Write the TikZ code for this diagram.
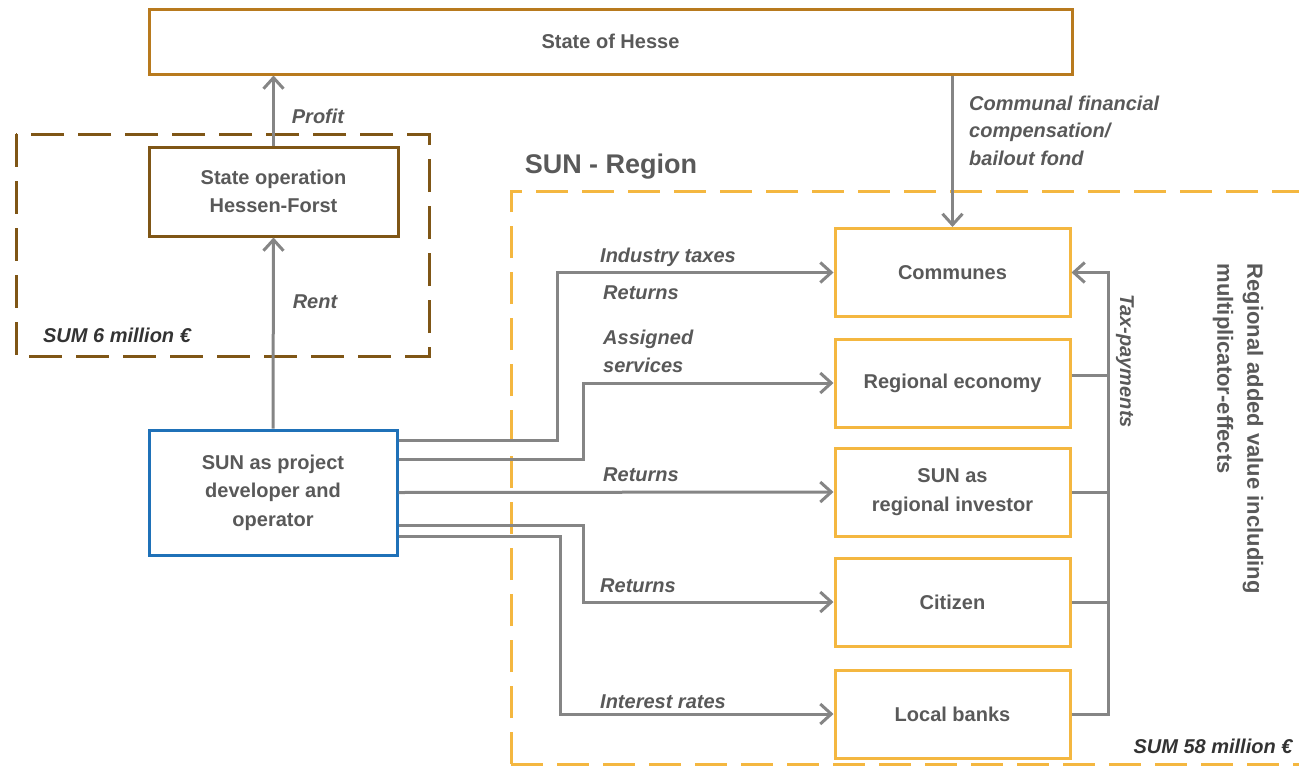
\documentclass[tikz,border=0pt]{standalone}
\usepackage{fontspec}
\setmainfont{Liberation Sans}
\usetikzlibrary{arrows.meta,positioning,calc}
\definecolor{hessec}{HTML}{B87A1E}
\definecolor{brownc}{HTML}{7F5616}
\definecolor{yellowc}{HTML}{F4B740}
\definecolor{bluec}{HTML}{1F71B8}
\definecolor{txtc}{HTML}{595959}
\definecolor{darkc}{HTML}{333333}
\definecolor{connc}{HTML}{858585}
\tikzset{
  box/.style={draw, line width=3pt, rectangle, inner sep=0pt, align=center,
    text=txtc, font=\fontsize{20}{28.5}\selectfont\bfseries},
  hessebox/.style={box, draw=hessec},
  brownbox/.style={box, draw=brownc},
  bluebox/.style={box, draw=bluec},
  ybox/.style={box, draw=yellowc, minimum width=235pt, minimum height=88pt},
  conn/.style={draw=connc, line width=3pt, -{Straight Barb[length=11pt,width=20pt]}},
  connplain/.style={draw=connc, line width=3pt},
  lbl/.style={text=txtc, font=\fontsize{20}{27.5}\selectfont\bfseries\itshape, inner sep=0pt, align=left},
  sumlbl/.style={text=darkc, font=\fontsize{20}{27}\selectfont\bfseries\itshape, inner sep=0pt},
}
\begin{document}
\begin{tikzpicture}[x=1pt,y=-1pt]
\useasboundingbox (0,0) rectangle (1299,766);
% dashed regions
\draw[brownc, line width=3pt, dash pattern=on 33pt off 14pt] (16,134) rectangle (429,356);
\draw[yellowc, line width=3pt, dash pattern=on 32pt off 14pt] (511,764) -- (511,191) -- (1330,191);
\draw[yellowc, line width=3pt, dash pattern=on 32pt off 14pt] (511,764) -- (1330,764);
% boxes
\node[hessebox, minimum width=923pt, minimum height=65pt] (hesse) at (610.5,41.5) {State of Hesse};
\node[brownbox, minimum width=249pt, minimum height=89pt] (stop) at (273.5,191.5) {State operation\\Hessen-Forst};
\node[bluebox, minimum width=248pt, minimum height=125pt] (sun) at (273,492.5) {SUN as project\\developer and\\operator};
\node[ybox] (comm) at (952.5,272.5) {Communes};
\node[ybox] (reco) at (952.5,383) {Regional economy};
\node[ybox] (inv) at (952.5,492) {SUN as\\regional investor};
\node[ybox] (cit) at (952.5,602) {Citizen};
\node[ybox] (banks) at (952.5,714) {Local banks};
% titles
\node[text=txtc, font=\fontsize{27}{30}\selectfont\bfseries, inner sep=0pt] (regtitle) at (611,167) {SUN - Region};
\node[sumlbl] (sum6) at (117,335) {SUM 6 million €};
\node[sumlbl] (sum58) at (1213,746) {SUM 58 million €};
\node[text=txtc, font=\fontsize{22}{30}\selectfont\bfseries, inner sep=0pt, align=left, rotate=-90] (regval) at (1238,428.5) {Regional added value including\\multiplicator-effects};
% vertical arrows
\draw[conn] (stop.north) -- (stop.north |- hesse.south);
\node[lbl] (lprofit) at (318,116) {Profit};
\draw[conn] (sun.north) -- (stop.south);
\node[lbl] (lrent) at (315,302) {Rent};
\draw[conn] (hesse.south -| comm.north) -- (comm.north);
\node[lbl, anchor=west] (lcomp) at (969,130.5) {Communal financial\\compensation/\\bailout fond};
% connectors from SUN
\draw[conn] ([yshift=52pt]sun.east) -- ++(159,0) |- (comm.west);
\draw[conn] ([yshift=33pt]sun.east) -- ++(185,0) |- (reco.west);
\draw[conn] (sun.east) -- (inv.west);
\draw[conn] ([yshift=-33pt]sun.east) -- ++(185,0) |- (cit.west);
\draw[conn] ([yshift=-44pt]sun.east) -- ++(162,0) |- (banks.west);
\node[lbl, anchor=west] (lind) at (600,257) {Industry taxes};
\node[lbl, anchor=west] (lret1) at (603,293) {Returns};
\node[lbl, anchor=west] (lass) at (603,351.5) {Assigned\\services};
\node[lbl, anchor=west] (lret2) at (603,475) {Returns};
\node[lbl, anchor=west] (lret3) at (600,586) {Returns};
\node[lbl, anchor=west] (lint) at (600,702) {Interest rates};
% tax payments bus
\draw[conn] (banks.east) -- ++(37,0) coordinate (busb) |- (comm.east);
\draw[connplain] ([yshift=8pt]reco.east) -- ++(37,0);
\draw[connplain] (inv.east) -- ++(37,0);
\draw[connplain] (cit.east) -- ++(37,0);
\node[lbl, rotate=-90] (ltax) at (1125,361) {Tax-payments};
\end{tikzpicture}
\end{document}
